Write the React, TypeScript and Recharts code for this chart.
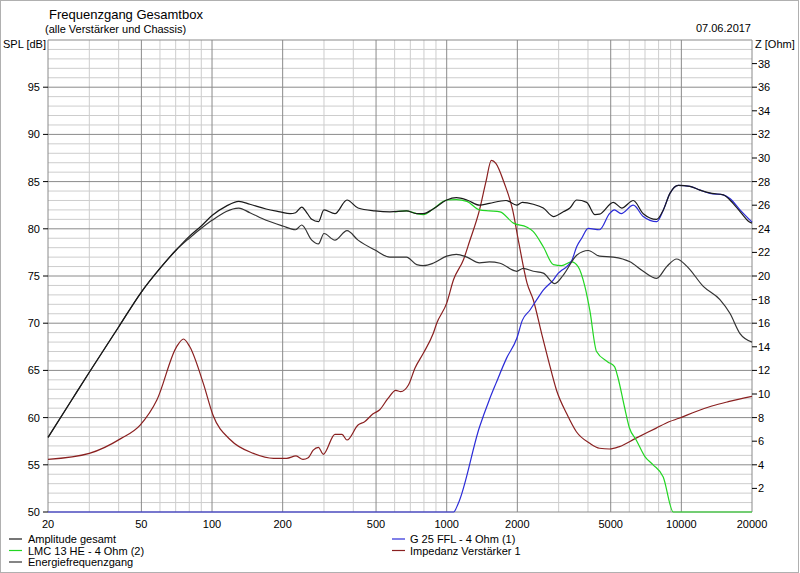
import React from "react";
import { LineChart, Line, XAxis, YAxis, CartesianGrid } from "recharts";

// ---- tick labels / grid ----
const xTicks = [20, 50, 100, 200, 500, 1000, 2000, 5000, 10000, 20000];
const xMinor = [30, 40, 60, 70, 80, 90, 300, 400, 600, 700, 800, 900, 3000, 4000, 6000, 7000, 8000, 9000];
const xMajor = [20, 50, 100, 200, 500, 1000, 2000, 5000, 10000, 20000];
const splTicks = [50, 55, 60, 65, 70, 75, 80, 85, 90, 95];
const splMajor = [50, 55, 60, 65, 70, 75, 80, 85, 90, 95, 100];
const splMinor = [51,52,53,54,56,57,58,59,61,62,63,64,66,67,68,69,71,72,73,74,76,77,78,79,81,82,83,84,86,87,88,89,91,92,93,94,96,97,98,99];
const zTicks = [2, 4, 6, 8, 10, 12, 14, 16, 18, 20, 22, 24, 26, 28, 30, 32, 34, 36, 38];

// ---- Amplitude gesamt ----
const ampF = [20,25,30,40,50,60,70,80,90,100,115,130,145,170,195,215,227,241,255,266,284,300,334,376,419,495,573,674,745,795,875,1000,1100,1220,1380,1520,1790,1987,2100,2340,2580,2850,3140,3350,3580,3950,4285,4480,5130,5570,6240,6880,7850,8380,8940,9700,10880,12000,13500,15090,16600,18230,19300,20000];
const ampV = [57.9,61.7,64.8,69.6,73.3,75.8,77.7,79.2,80.3,81.4,82.4,82.9,82.6,82.1,81.8,81.6,81.7,82.3,81.6,81.0,80.75,82.0,81.6,83.05,82.2,81.9,81.8,81.9,81.6,81.6,82.1,83.05,83.3,83.05,82.5,82.7,83.0,82.5,82.8,82.6,82.2,81.3,81.8,82.2,83.05,82.8,81.5,81.55,82.8,82.2,83.0,81.6,81.0,82.0,83.75,84.6,84.5,84.1,83.75,83.6,82.7,81.5,80.8,80.6];

// ---- Energiefrequenzgang ----
const engF = [20,25,30,40,50,60,70,80,90,100,130,145,170,200,227,241,266,284,300,334,376,419,495,573,674,745,795,875,1000,1100,1220,1380,1520,1688,1987,2120,2340,2580,2890,3140,3580,4010,4480,5130,6040,6880,7850,8660,9550,10540,12400,14600,16100,17780,20000];
const engV = [57.9,61.7,64.8,69.6,73.3,75.8,77.7,79.0,80.05,80.9,82.2,81.7,80.9,80.3,79.9,80.4,78.8,78.4,79.5,78.8,79.8,78.8,77.75,77.0,77.0,76.2,76.1,76.35,77.1,77.3,77.0,76.4,76.5,76.35,75.5,75.8,75.5,75.3,74.2,75.1,77.2,77.7,77.1,77.0,76.5,75.5,74.75,76.0,76.8,76.05,73.9,72.5,71.05,68.9,68.0];

// ---- LMC 13 HE - 4 Ohm (2) ----
const lmcF = [600,674,745,795,875,1000,1100,1220,1380,1520,1688,1925,2190,2340,2580,2850,3090,3400,3630,3880,4070,4350,4860,5190,5360,5720,6010,6430,6980,7580,8370,9240,12000,20000];
const lmcV = [81.8,81.9,81.6,81.5,82.1,83.05,83.1,82.9,82.0,81.9,81.8,80.6,80.2,79.7,78.1,76.2,76.1,76.5,76.0,73.9,71.4,67.0,65.9,65.4,64.3,61.15,58.9,57.6,55.9,55.0,53.7,50.0,50.0,50.0];

// ---- G 25 FFL - 4 Ohm (1) ----
const g25F = [20,1070,1120,1380,1520,1620,1800,1990,2100,2265,2420,2580,2850,2990,3090,3250,3420,3580,3760,4010,4480,4940,5180,5540,6240,6880,7850,8380,8940,9700,10880,12000,13240,15090,16100,17780,20000];
const g25V = [50,50,50.9,59.0,61.9,63.6,66.3,68.4,70.3,71.4,72.5,73.5,74.6,75.3,75.6,76.0,76.7,78.1,79.0,80.05,79.9,81.6,82.0,81.6,82.5,81.3,80.75,82.0,83.75,84.6,84.5,84.1,83.75,83.6,83.2,82.0,80.7];

// ---- Impedanz Verstärker 1 ----
const impF = [20,30,41,49.4,58.2,70.6,75.6,80.4,91.8,101,120,150,183,208,228,244,257,270,284,298,334,358,376,419,447,484,517,561,607,637,687,733,795,875,907,1000,1070,1180,1250,1380,1470,1550,1620,1760,1910,2030,2200,2340,2540,2710,2940,3240,3570,4070,4480,4940,5440,6380,7780,8860,9770,11480,13490,15850,20000];
const impV = [4.46,4.97,6.24,7.37,9.49,14.0,14.66,14.0,10.9,8.2,6.1,4.97,4.55,4.55,4.75,4.46,4.6,5.25,5.48,4.89,6.58,6.58,6.1,7.37,7.65,8.3,8.64,9.6,10.3,10.2,10.76,12.2,13.45,15.1,16.0,17.7,19.7,21.4,22.9,25.6,28.0,29.8,29.55,27.86,25.6,22.8,19.4,17.97,15.1,12.9,10.3,8.36,6.8,5.82,5.4,5.34,5.54,6.24,7.09,7.65,7.94,8.5,8.98,9.35,9.8];

const zip = (fs: number[], vs: number[]) => fs.map((f, i) => ({ f, v: vs[i] }));
const ampData = zip(ampF, ampV);
const engData = zip(engF, engV);
const lmcData = zip(lmcF, lmcV);
const g25Data = zip(g25F, g25V);
const impData = zip(impF, impV);

const FONT = '"Liberation Sans", Arial, sans-serif';
const MAJOR = "#8a8a8a";
const MINOR = "#cdcdcd";

const legendLeft = [
  { name: "Amplitude gesamt", color: "#1a1a1a" },
  { name: "LMC 13 HE - 4 Ohm (2)", color: "#22d622" },
  { name: "Energiefrequenzgang", color: "#333333" },
];
const legendRight = [
  { name: "G 25 FFL - 4 Ohm (1)", color: "#2b2bd8" },
  { name: "Impedanz Verstärker 1", color: "#8a2020" },
];

const XTick = (props: any) => {
  const { x, y, payload } = props;
  return (
    <text x={x} y={y + 16} textAnchor="middle" fontSize={11} fontFamily={FONT} fill="#000">
      {payload.value}
    </text>
  );
};

export default function App() {
  return (
    <div style={{ position: "relative", width: 800, height: 573, background: "#fff", fontFamily: FONT }}>
      <style>{`body{margin:0;background:#fff}`}</style>
      <div style={{ position: "absolute", left: 0, top: 0, width: 797, height: 571, border: "1px solid #b0b0b0" }} />
      <LineChart width={800} height={573} margin={{ top: 40, right: 0, left: 0, bottom: 41 }}>
        <XAxis
          dataKey="f"
          type="number"
          scale="log"
          domain={[20, 20000]}
          ticks={xTicks}
          height={20}
          tickSize={0}
          tickMargin={0}
          tickLine={false}
          axisLine={false}
          tick={<XTick />}
          interval={0}
        />
        <YAxis
          yAxisId="spl"
          width={48}
          domain={[50, 100]}
          ticks={splTicks}
          interval={0}
          axisLine={false}
          tickSize={5}
          tickMargin={3}
          tickLine={{ stroke: "#000" }}
          tick={{ fontSize: 11, fill: "#000", fontFamily: FONT }}
        />
        <YAxis
          yAxisId="z"
          orientation="right"
          width={48}
          domain={[0, 40]}
          ticks={zTicks}
          interval={0}
          axisLine={false}
          tickSize={5}
          tickMargin={1}
          tickLine={{ stroke: "#000" }}
          tick={{ fontSize: 11, fill: "#000", fontFamily: FONT }}
        />
        <CartesianGrid
          yAxisId="spl"
          horizontalValues={splMinor}
          verticalValues={xMinor}
          stroke={MINOR}
          strokeWidth={1}
          syncWithTicks={false}
        />
        <CartesianGrid
          yAxisId="spl"
          horizontalValues={splMajor}
          verticalValues={xMajor}
          stroke={MAJOR}
          strokeWidth={1}
          syncWithTicks={false}
        />
        <Line data={impData} yAxisId="z" dataKey="v" type="monotone" stroke="#8a2020" strokeWidth={1.2} dot={false} isAnimationActive={false} />
        <Line data={lmcData} yAxisId="spl" dataKey="v" type="monotone" stroke="#22d622" strokeWidth={1.2} dot={false} isAnimationActive={false} />
        <Line data={g25Data} yAxisId="spl" dataKey="v" type="monotone" stroke="#2b2bd8" strokeWidth={1.2} dot={false} isAnimationActive={false} />
        <Line data={engData} yAxisId="spl" dataKey="v" type="monotone" stroke="#333333" strokeWidth={1.2} dot={false} isAnimationActive={false} />
        <Line data={ampData} yAxisId="spl" dataKey="v" type="monotone" stroke="#1a1a1a" strokeWidth={1.2} dot={false} isAnimationActive={false} />
      </LineChart>
      <svg width={800} height={573} style={{ position: "absolute", left: 0, top: 0, pointerEvents: "none" }}>
        <text x={49} y={19} fontSize={13} fontFamily={FONT} fill="#000">Frequenzgang Gesamtbox</text>
        <text x={45} y={33} fontSize={11} fontFamily={FONT} fill="#000">(alle Verstärker und Chassis)</text>
        <text x={751} y={32} fontSize={11} fontFamily={FONT} fill="#000" textAnchor="end">07.06.2017</text>
        <text x={3} y={48} fontSize={11} fontFamily={FONT} fill="#000">SPL [dB]</text>
        <text x={755} y={48} fontSize={11} fontFamily={FONT} fill="#000">Z [Ohm]</text>
        {legendLeft.map((l, i) => (
          <g key={l.name}>
            <line x1={9} x2={22} y1={539 + i * 11.5} y2={539 + i * 11.5} stroke={l.color} strokeWidth={1.2} />
            <text x={28} y={543 + i * 11.5} fontSize={11} fontFamily={FONT} fill="#000">{l.name}</text>
          </g>
        ))}
        {legendRight.map((l, i) => (
          <g key={l.name}>
            <line x1={392} x2={405} y1={539 + i * 11.5} y2={539 + i * 11.5} stroke={l.color} strokeWidth={1.2} />
            <text x={410} y={543 + i * 11.5} fontSize={11} fontFamily={FONT} fill="#000">{l.name}</text>
          </g>
        ))}
      </svg>
    </div>
  );
}
